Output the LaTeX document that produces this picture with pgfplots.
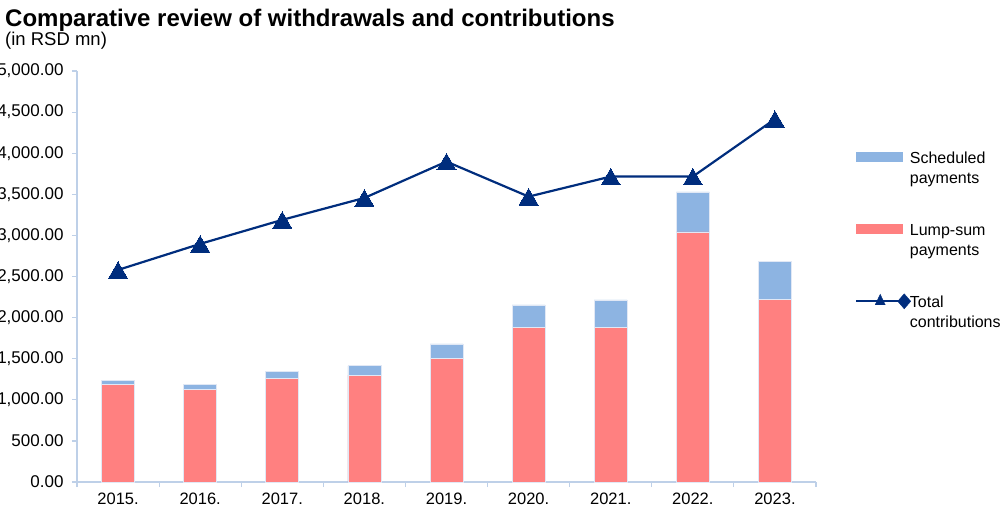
\documentclass[border=0pt]{standalone}
\usepackage{pgfplots}
\pgfplotsset{compat=1.18}
\usepackage{fontspec}
\setmainfont{Liberation Sans}
\definecolor{sched}{RGB}{141,180,226}
\definecolor{lump}{RGB}{255,128,128}
\definecolor{navyl}{RGB}{0,45,125}
\definecolor{axc}{RGB}{190,208,232}
\definecolor{edgec}{RGB}{225,232,245}

\pgfplotstableread{
x total lump contrib
0 1240 1190 2580
1 1190 1130 2897
2 1350 1260 3189
3 1414 1299 3456
4 1680 1500 3898
5 2155 1878 3472
6 2215 1878 3716
7 3530 3042 3716
8 2688 2220 4415
}\datatable

\begin{document}
\begin{tikzpicture}[x=1pt,y=1pt]
\begin{axis}[
  at={(77pt,30pt)}, anchor=south west,
  scale only axis, width=739pt, height=411pt,
  xmin=-0.5, xmax=8.5, ymin=0, ymax=5000,
  axis x line*=bottom, axis y line*=left,
  axis line style={axc, line width=1.2pt, -},
  xtick={-0.5,0.5,...,8.5}, xticklabels={},
  extra x ticks={0,1,...,8},
  extra x tick labels={2015.,2016.,2017.,2018.,2019.,2020.,2021.,2022.,2023.},
  extra x tick style={major tick length=0pt, tick label style={yshift=-7.5pt}},
  ytick={0,500,...,5000},
  tick align=outside,
  tick style={axc, line width=1.2pt},
  major tick length=5pt,
  yticklabel style={xshift=-5pt, font=\fontsize{17}{19}\selectfont},
  xticklabel style={font=\fontsize{16.5}{19}\selectfont},
  /pgf/number format/assume math mode=true,
  y tick label style={/pgf/number format/.cd, fixed, fixed zerofill, precision=2, 1000 sep={,}},
  legend style={at={(1.0528,0.81)}, anchor=north west, draw=none, fill=none,
    inner sep=0pt, row sep=56.5pt, column sep=-1pt,
    nodes={inner sep=0pt, anchor=base west},
    font=\fontsize{16}{20}\selectfont},
  legend cell align=left,
  clip=false,
]
\addplot[ybar, bar width=33pt, bar shift=0pt, fill=sched, draw=edgec, line width=0.6pt, forget plot]
  table[x=x, y=total] {\datatable};
\addplot[ybar, bar width=33pt, bar shift=0pt, fill=lump, draw=edgec, line width=0.6pt, forget plot]
  table[x=x, y=lump] {\datatable};
\addplot[navyl, line width=2.2pt, mark=triangle*, mark size=11pt,
  mark options={solid, fill=navyl, draw=navyl, line width=0pt, yshift=-2.9pt}, forget plot]
  table[x=x, y=contrib] {\datatable};

\addlegendimage{legend image code/.code={\fill[sched] (0pt,2pt) rectangle (46pt,11pt);}}
\addlegendentry{\begin{tabular}[t]{@{}l@{}}Scheduled\\payments\end{tabular}}
\addlegendimage{legend image code/.code={\fill[lump] (0pt,2pt) rectangle (46pt,11pt);}}
\addlegendentry{\begin{tabular}[t]{@{}l@{}}Lump-sum\\payments\end{tabular}}
\addlegendimage{legend image code/.code={
  \draw[navyl, line width=2pt] (0pt,6pt) -- (48pt,6pt);
  \fill[navyl] (24pt,13pt) -- (19pt,2.5pt) -- (29pt,2.5pt) -- cycle;
  \fill[navyl] (48pt,13.5pt) -- (54.5pt,6pt) -- (48pt,-1.5pt) -- (41.5pt,6pt) -- cycle;}}
\addlegendentry{\begin{tabular}[t]{@{}l@{}}Total\\contributions\end{tabular}}
\end{axis}
\node[anchor=base west, inner sep=0pt, font=\fontsize{24}{26}\selectfont\bfseries] at (5pt,485pt)
  {Comparative review of withdrawals and contributions};
\node[anchor=base west, inner sep=0pt, font=\fontsize{18.5}{21}\selectfont] at (5pt,466pt)
  {(in RSD mn)};
\pgfresetboundingbox
\useasboundingbox (0pt,0pt) rectangle (1006pt,512pt);
\end{tikzpicture}
\end{document}
